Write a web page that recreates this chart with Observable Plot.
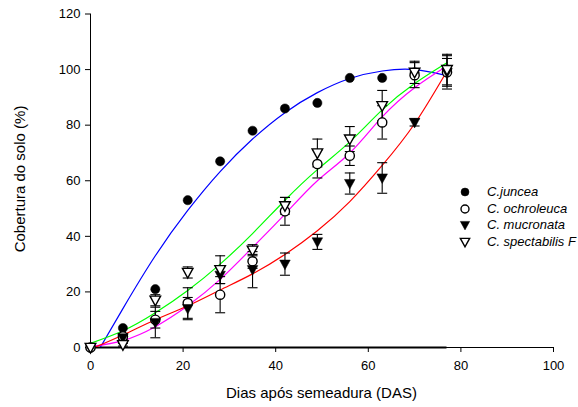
<!DOCTYPE html>
<html>
<head>
<meta charset="utf-8">
<script src="https://cdn.jsdelivr.net/npm/d3@7"></script>
<script src="https://cdn.jsdelivr.net/npm/@observablehq/plot@0.6"></script>
<style>
  html, body { margin: 0; padding: 0; background: #fff; }
  #wrap { position: relative; width: 578px; height: 407px; font-family: 'Liberation Sans', Arial, sans-serif; }
  .leg { position: absolute; left: 458px; font-size: 13px; font-style: italic; line-height: 16px; white-space: nowrap; display: flex; align-items: center; }
  .leg svg { width: 14px; height: 14px; margin-right: 15px; overflow: visible; }
</style>
</head>
<body>
<div id="wrap"></div>
<script>
// ---- data ----
const days = [0, 7, 14, 21, 28, 35, 42, 49, 56, 63, 70, 77];

const juncea         = [0, 7, 21, 53, 67, 78, 86, 88, 97, 97, 99, 100];
const ochroleuca     = [0, 4, 10, 16, 19, 31, 49, 66, 69, 81, 98, 99];
const ochroleucaErr  = [0, 1, 3, 5.5, 6.5, 2.5, 5, 5, 3.5, 6, 4.5, 6];
const mucronata      = [0, 3.5, 9, 14, 26, 28, 30, 38, 59, 61, 81, 99];
const mucronataErr   = [0, 1, 5.5, 4, 3, 6.5, 4, 2.7, 3.8, 5.5, 1.3, 5];
const spectabilis    = [0, 1, 17, 27, 28, 35, 51, 70, 75, 87, 99, 100];
const spectabilisErr = [0, 0.5, 2, 2, 5, 2, 3, 5, 4.5, 5.5, 4, 5.5];

// fitted curves, read at the sampling days
const fitDays       = [0, 7, 14, 21, 28, 35, 42, 49, 56, 63, 70, 77];
const junceaFit     = [-6, 14, 33, 49.3, 63.3, 75, 84.5, 91.7, 96.8, 99.5, 100, 97.8];
const spectabilisFit= [1.5, 6, 12.5, 20.5, 30, 41, 53, 64, 74, 85.5, 95, 102.5];
const ochroleucaFit = [0.3, 2.5, 7.5, 15, 24.5, 36, 48, 60, 70, 83, 93.5, 101.3];
const mucronataFit  = [-0.6, 4.5, 10, 15, 20.7, 26.5, 33.5, 42, 52.5, 65.5, 80.5, 99.5];

const names  = ["C.juncea", "C. ochroleuca", "C. mucronata", "C. spectabilis F"];
const colors = ["#0000ff", "#ff00ff", "#ff0000", "#00ff00"];
const xTicks = [0, 20, 40, 60, 80, 100];
const yTicks = [0, 20, 40, 60, 80, 100, 120];

// ---- symbols ----
const triDown = {draw(ctx, size) {
  const r = Math.sqrt(size / Math.PI);
  ctx.moveTo(-1.1 * r, -0.85 * r); ctx.lineTo(1.1 * r, -0.85 * r); ctx.lineTo(0, 1.15 * r); ctx.closePath();
}};
const capSym = {draw(ctx, size) {
  const r = Math.sqrt(size / Math.PI);
  ctx.moveTo(-r, 0); ctx.lineTo(r, 0);
}};

const series = [
  {name: names[0], v: juncea, e: null, fit: junceaFit, color: colors[0], symbol: "circle", fill: "black"},
  {name: names[1], v: ochroleuca, e: ochroleucaErr, fit: ochroleucaFit, color: colors[1], symbol: "circle", fill: "white"},
  {name: names[2], v: mucronata, e: mucronataErr, fit: mucronataFit, color: colors[2], symbol: triDown, fill: "black"},
  {name: names[3], v: spectabilis, e: spectabilisErr, fit: spectabilisFit, color: colors[3], symbol: triDown, fill: "white"}
];

const lineMarks = series.map(s => Plot.line(fitDays.map((d, i) => ({d, y: s.fit[i]})),
  {x: "d", y: "y", stroke: s.color, strokeWidth: 1.2, curve: "natural", clip: true}));

const errRows = series.flatMap(s => s.e ? days.map((d, i) => ({d, lo: s.v[i] - s.e[i], hi: s.v[i] + s.e[i], e: s.e[i]})).filter(r => r.e > 0) : []);

const errMarks = [
  Plot.ruleX(errRows, {x: "d", y1: "lo", y2: "hi", stroke: "black", strokeWidth: 1.1}),
  Plot.dot(errRows, {x: "d", y: "lo", symbol: capSym, r: 5, stroke: "black", strokeWidth: 1.1, fill: "none"}),
  Plot.dot(errRows, {x: "d", y: "hi", symbol: capSym, r: 5, stroke: "black", strokeWidth: 1.1, fill: "none"})
];

const dotMarks = series.map(s => Plot.dot(days.map((d, i) => ({d, y: s.v[i]})),
  {x: "d", y: "y", symbol: s.symbol, r: s.symbol === "circle" ? 4.6 : 4.8, fill: s.fill, stroke: "black", strokeWidth: s.fill === "white" ? 1.4 : 0.5}));

const chart = Plot.plot({
  width: 578, height: 407,
  marginLeft: 90, marginRight: 25, marginTop: 13.5, marginBottom: 60,
  x: {domain: [0, 100]},
  y: {domain: [0, 120]},
  style: {fontFamily: "'Liberation Sans', Arial, sans-serif", fontSize: "13px", background: "white", color: "black", overflow: "visible"},
  marks: [
    Plot.axisX({ticks: xTicks, tickSize: 5, tickPadding: 8, label: null}),
    Plot.axisY({ticks: yTicks, tickSize: 5, tickPadding: 5, label: null}),
    Plot.ruleY([0], {stroke: "black", strokeWidth: 1}),
    Plot.ruleX([0], {stroke: "black", strokeWidth: 1}),
    Plot.ruleY([0], {x1: days[0], x2: d3.max(days), stroke: "black", strokeWidth: 2.2}),
    ...lineMarks,
    ...errMarks,
    ...dotMarks
  ]
});

const svg = d3.select(chart);
svg.append("text").attr("x", 321.5).attr("y", 398).attr("text-anchor", "middle")
  .attr("font-size", 15).attr("fill", "black").text("Dias após semeadura (DAS)");
svg.append("text").attr("transform", "translate(25,179) rotate(-90)").attr("text-anchor", "middle")
  .attr("font-size", 15).attr("fill", "black").text("Cobertura do solo (%)");

const wrap = document.getElementById("wrap");
wrap.appendChild(chart);

// legend
const legTops = [184, 200.7, 217.4, 234.1];
series.forEach((s, i) => {
  const div = document.createElement("div");
  div.className = "leg";
  div.style.top = legTops[i] + "px";
  const sym = d3.symbol(s.symbol === "circle" ? d3.symbolCircle : s.symbol, s.symbol === "circle" ? Math.PI * 16 : Math.PI * 18)();
  div.innerHTML = `<svg viewBox="-7 -7 14 14"><path d="${sym}" fill="${s.fill}" stroke="black" stroke-width="${s.fill === "white" ? 1.4 : 0.5}"/></svg><span>${s.name}</span>`;
  wrap.appendChild(div);
});
</script>
</body>
</html>
